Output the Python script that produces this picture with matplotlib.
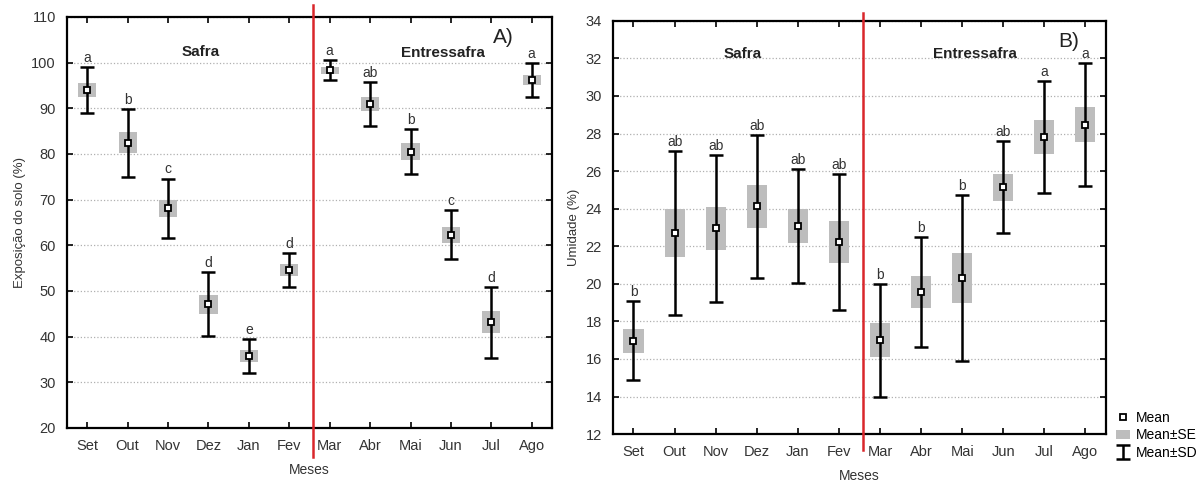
import numpy as np
import matplotlib
matplotlib.use('Agg')
import matplotlib.pyplot as plt

plt.rcParams['font.family'] = ['Liberation Sans', 'DejaVu Sans']

# Months (Sep -> Aug)
months = ['Set', 'Out', 'Nov', 'Dez', 'Jan', 'Fev', 'Mar', 'Abr', 'Mai', 'Jun', 'Jul', 'Ago']

# Panel A - soil exposure (%)
expo_mean = [94.0, 82.4, 68.1, 47.1, 35.8, 54.5, 98.3, 90.9, 80.5, 62.3, 43.1, 96.2]
expo_se = [1.6, 2.3, 1.9, 2.1, 1.3, 1.3, 0.8, 1.6, 1.9, 1.8, 2.4, 1.1]
expo_sd = [5.1, 7.5, 6.5, 7.0, 3.7, 3.7, 2.2, 4.8, 5.0, 5.4, 7.7, 3.7]
expo_letters = ['a', 'b', 'c', 'd', 'e', 'd', 'a', 'ab', 'b', 'c', 'd', 'a']

# Panel B - soil moisture (%)
umid_mean = [16.97, 22.7, 22.95, 24.12, 23.07, 22.22, 16.99, 19.57, 20.32, 25.15, 27.8, 28.48]
umid_se = [0.63, 1.27, 1.15, 1.15, 0.91, 1.1, 0.9, 0.87, 1.32, 0.72, 0.91, 0.95]
umid_sd = [2.1, 4.37, 3.9, 3.8, 3.05, 3.6, 3.02, 2.93, 4.43, 2.45, 2.97, 3.28]
umid_letters = ['b', 'ab', 'ab', 'ab', 'ab', 'ab', 'b', 'b', 'b', 'ab', 'a', 'a']

box_color = '#bdbdbd'
red = '#d9262b'
txt_color = '#333333'


def draw_panel(ax, mean, se, sd, letters, ylim, ystep, box_w, red_span):
    x = np.arange(len(months))
    mean = np.array(mean)
    se = np.array(se)
    sd = np.array(sd)

    ax.yaxis.grid(True, linestyle=':', color='#b0b0b0', linewidth=0.9)
    ax.set_axisbelow(True)

    bars = ax.bar(x, 2 * se, bottom=mean - se, width=box_w, color=box_color,
                  edgecolor='none', zorder=2, label='Mean±SE')
    err = ax.errorbar(x, mean, yerr=sd, fmt='none', ecolor='black', elinewidth=1.8,
                      capsize=5, capthick=1.8, zorder=3, label='Mean±SD')
    pts, = ax.plot(x, mean, 's', ms=5, mfc='white', mec='black', mew=1.3,
                   ls='none', zorder=4, label='Mean')

    for xi, top, lab in zip(x, mean + sd, letters):
        ax.annotate(lab, (xi, top), xytext=(0, 1.5), textcoords='offset points',
                    ha='center', va='bottom', fontsize=10, color=txt_color)

    # season separator
    ax.plot([5.58, 5.58], red_span, color=red, lw=1.8, clip_on=False, zorder=5)

    ax.set_xlim(-0.5, 11.5)
    ax.set_ylim(*ylim)
    ax.set_yticks(np.arange(ylim[0], ylim[1] + 0.01, ystep))
    ax.set_xticks(x)
    ax.set_xticklabels(months)
    ax.tick_params(direction='in', length=4, width=1.2, top=True, right=True,
                   labelsize=10.5, labelcolor=txt_color, pad=8)
    for sp in ax.spines.values():
        sp.set_linewidth(1.6)
    ax.set_xlabel('Meses', fontsize=10, color=txt_color, labelpad=7)
    return pts, bars, err


fig = plt.figure(figsize=(11.96, 4.84), dpi=100)
ax1 = fig.add_axes([0.056, 0.116, 0.4055, 0.849])
ax2 = fig.add_axes([0.5125, 0.103, 0.4122, 0.854])

draw_panel(ax1, expo_mean, expo_se, expo_sd, expo_letters, (20, 110), 10, 0.45, (13.7, 112.6))
ax1.set_ylabel('Exposição do solo (%)', fontsize=9.5, color=txt_color)
ax1.text(2.8, 101.5, 'Safra', fontsize=11, fontweight='bold', ha='center', color='#222222')
ax1.text(8.8, 101.3, 'Entressafra', fontsize=11, fontweight='bold', ha='center', color='#222222')
ax1.text(10.3, 104.3, 'A)', fontsize=15, ha='center', color='#222222')

pts, bars, err = draw_panel(ax2, umid_mean, umid_se, umid_sd, umid_letters, (12, 34), 2, 0.49, (11.15, 34.4))
ax2.set_ylabel('Umidade (%)', fontsize=9.5, color=txt_color)
ax2.text(2.65, 32.0, 'Safra', fontsize=11, fontweight='bold', ha='center', color='#222222')
ax2.text(8.3, 32.0, 'Entressafra', fontsize=11, fontweight='bold', ha='center', color='#222222')
ax2.text(10.6, 32.6, 'B)', fontsize=15, ha='center', color='#222222')

fig.legend([pts, bars, err], ['Mean', 'Mean±SE', 'Mean±SD'], loc='lower left',
           bbox_to_anchor=(0.925, 0.03), frameon=False, fontsize=10,
           handlelength=1.0, handletextpad=0.4, labelspacing=0.25, borderpad=0.2)

fig.savefig('out.png', dpi=100)
